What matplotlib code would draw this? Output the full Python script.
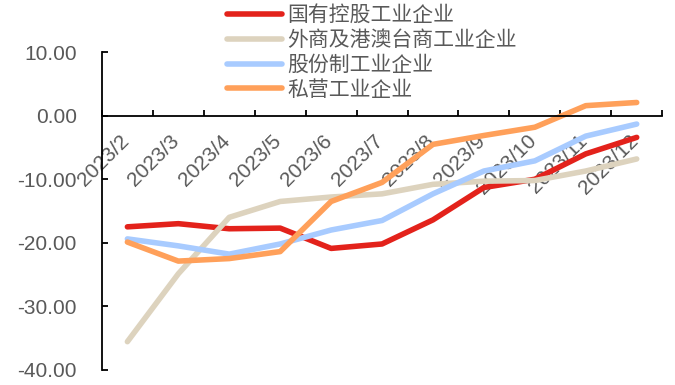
import matplotlib.pyplot as plt
import matplotlib.transforms as mtransforms
import numpy as np

plt.rcParams['font.family'] = ['Liberation Sans', 'Noto Sans CJK SC']

months = ['2023/2', '2023/3', '2023/4', '2023/5', '2023/6', '2023/7',
          '2023/8', '2023/9', '2023/10', '2023/11', '2023/12']
state_owned = [-17.5, -17.0, -17.8, -17.7, -20.9, -20.2, -16.4, -11.3, -10.0, -6.0, -3.4]
foreign = [-35.6, -24.9, -16.0, -13.5, -12.8, -12.3, -10.8, -10.3, -10.2, -8.7, -6.8]
shareholding = [-19.4, -20.5, -21.8, -20.2, -18.0, -16.5, -12.3, -8.7, -7.1, -3.2, -1.3]
private = [-19.9, -22.9, -22.5, -21.4, -13.5, -10.5, -4.5, -3.1, -1.8, 1.6, 2.1]
yticks = [10, 0, -10, -20, -30, -40]

series = [
    ('国有控股工业企业', state_owned, '#E3221B'),
    ('外商及港澳台商工业企业', foreign, '#DDD3BE'),
    ('股份制工业企业', shareholding, '#A8CBFF'),
    ('私营工业企业', private, '#FFA05A'),
]

fig = plt.figure(figsize=(6.75, 3.85), dpi=100)
ax = fig.add_axes([0.151, 0.040, 0.830, 0.824])
x = np.arange(len(months))
for name, vals, col in series:
    ax.plot(x, vals, color=col, lw=4, label=name, solid_capstyle='round')

ax.set_xlim(-0.5, len(months) - 0.5)
ax.set_ylim(-40, 10)
ax.set_yticks(yticks)
ax.set_yticklabels([f'{v:.2f}' for v in yticks])

ax.spines['top'].set_visible(False)
ax.spines['right'].set_visible(False)
ax.spines['bottom'].set_position(('data', 0))
for s in ['left', 'bottom']:
    ax.spines[s].set_linewidth(1.3)

ax.set_xticks(x)
ax.set_xticklabels(months, rotation=45, ha='right', va='top')
ax.set_xticks(np.arange(-0.5, len(months)), minor=True)
ax.tick_params(axis='x', which='major', length=0, pad=11, labelsize=15, labelcolor='#595959')
ax.tick_params(axis='x', which='minor', direction='in', length=4.5, width=1.3)
ax.tick_params(axis='y', direction='in', length=4.5, width=1.3, labelsize=15,
               labelcolor='#595959', pad=18)
shift = mtransforms.ScaledTranslation(5 / 100, 0, fig.dpi_scale_trans)
for lbl in ax.get_xticklabels():
    lbl.set_transform(lbl.get_transform() + shift)

leg = fig.legend(loc='upper left', bbox_to_anchor=(0.333, 0.992), frameon=False,
                 fontsize=15, handlelength=2.65, handletextpad=0.25, labelspacing=0.25,
                 borderpad=0.1, borderaxespad=0, labelcolor='#595959')

fig.savefig('out.png', dpi=100)
